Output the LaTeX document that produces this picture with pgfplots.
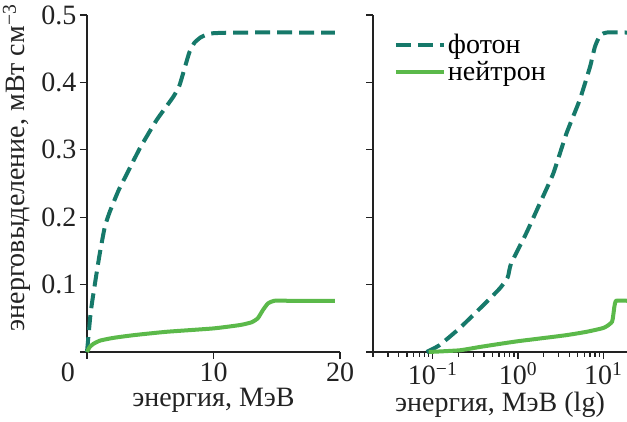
\documentclass[border=0pt]{standalone}
\usepackage{pgfplots}
\pgfplotsset{compat=1.18}
\usepackage{fontspec}
\setmainfont{Liberation Serif}
\definecolor{photon}{HTML}{16796A}
\definecolor{neutron}{HTML}{5BB94A}
\definecolor{axc}{HTML}{222222}
\newcommand{\bigf}{\fontsize{28}{32}\selectfont}
\begin{document}
\begin{tikzpicture}
\path[use as bounding box] (0,0) rectangle (627pt,422pt);
\pgfplotsset{
  common/.style={
    scale only axis,
    axis lines*=left,
    clip=false,
    tick align=outside,
    major tick length=7pt,
    minor tick length=5pt,
    every tick/.style={axc, line width=1.2pt},
    axis line style={axc, line width=1.2pt},
    tick label style={font=\bigf, text=axc},
    label style={font=\bigf, text=axc},
    ymin=0, ymax=0.5,
    ytick={0,0.1,0.2,0.3,0.4,0.5},
    /pgf/number format/assume math mode=true,
  },
  ph/.style={photon, line width=4pt, dash pattern=on 15pt off 7pt, smooth, tension=0.3},
  ne/.style={neutron, line width=4pt, smooth, tension=0.3},
}
\begin{axis}[common,
  at={(87pt,70pt)}, anchor=south west, width=253pt, height=337pt,
  xmin=0, xmax=20,
  xtick={0,10,20},
  xticklabels={\makebox[0pt][r]{0\hspace{12pt}},10,20},
  yticklabels={,0.1,0.2,0.3,0.4,0.5},
  xlabel={энергия, МэВ},
  ylabel={энерговыделение, мВт см\textsuperscript{−3}},
  ylabel style={at={(axis description cs:-0.277,0.546)}, anchor=center},
]
\addplot[ph] coordinates {
(0,0) (0.3,0.06) (0.7,0.11) (1.0,0.145) (1.4,0.185) (1.8,0.208)
(2.5,0.240) (3.2,0.266) (4.2,0.303) (5.5,0.344) (6.8,0.378)
(7.3,0.395) (7.7,0.42) (8.1,0.445) (8.5,0.459) (9.0,0.467)
(9.5,0.471) (10,0.473) (12,0.474) (19.6,0.474)};
\addplot[ne] coordinates {
(0,0) (0.2,0.007) (0.5,0.012) (1.05,0.017) (2.1,0.021) (3.7,0.025)
(6.3,0.030) (10,0.035) (12.1,0.040) (13.0,0.044) (13.5,0.050) (13.9,0.062)
(14.3,0.072) (14.8,0.076) (16,0.076) (19.6,0.076)};
\end{axis}
\begin{axis}[common, xmode=log,
  at={(373pt,70pt)}, anchor=south west, width=254pt, height=337pt,
  xmin=0.02, xmax=19,
  xtick={0.1,1,10},
  minor xtick={0.02,0.03,0.04,0.05,0.06,0.07,0.08,0.09,0.2,0.3,0.4,0.5,0.6,0.7,0.8,0.9,2,3,4,5,6,7,8,9},
  xticklabels={10\textsuperscript{−1},10\textsuperscript{0},10\textsuperscript{1}},
  yticklabels={},
  xlabel={энергия, МэВ (lg)},
  legend style={at={(0.07,0.955)}, anchor=north west, draw=none, fill=none,
    font=\bigf, row sep=2pt},
  legend cell align=left,
  legend image code/.code={\draw[#1] (0pt,0pt) -- (48pt,0pt);},
]
\addplot[ph] coordinates {
(0.085,0) (0.12,0.01) (0.206,0.035) (0.355,0.064) (0.61,0.094)
(0.76,0.111) (0.83,0.131) (1.25,0.176) (1.8,0.22) (2.6,0.265)
(3.7,0.324) (5.3,0.374) (7.0,0.423) (8.0,0.453) (9.2,0.470)
(11,0.474) (19,0.474)};
\addlegendentry{фотон}
\addplot[ne] coordinates {
(0.09,0) (0.206,0.0025) (0.355,0.0074) (0.61,0.012) (1.0,0.016)
(1.8,0.020) (3.7,0.025) (6.4,0.030) (10.2,0.036) (12.7,0.045)
(13.5,0.067) (14.2,0.076) (19,0.076)};
\addlegendentry{нейтрон}
\end{axis}
\end{tikzpicture}
\end{document}
